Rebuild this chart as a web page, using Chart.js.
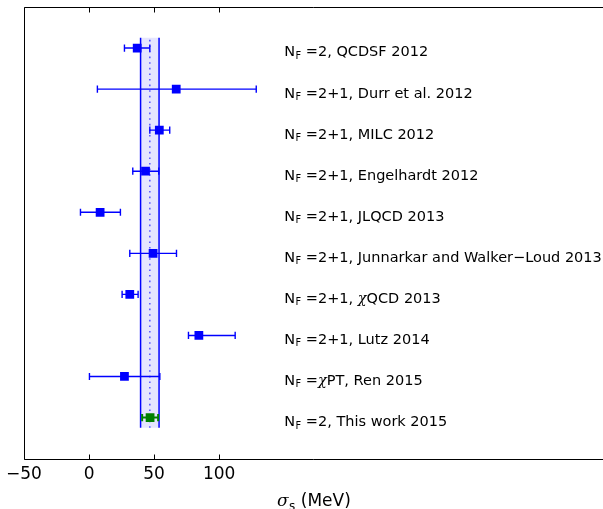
<!DOCTYPE html>
<html lang="en">
<head>
    <meta charset="UTF-8">
    <title>sigma_s comparison</title>
    <script src="https://cdn.jsdelivr.net/npm/chart.js"></script>
    <style>
        body { margin: 0; background: #fff; }
        #wrap { width: 603px; height: 509px; position: relative; }
    </style>
</head>
<body>
    <div id="wrap"><canvas id="sigmaChart"></canvas></div>
    <script>
    // one row per calculation, top to bottom
    var rowY = [10, 9, 8, 7, 6, 5, 4, 3, 2, 1];
    var sigma = [37, 67, 54, 43.4, 8.5, 49.2, 31.3, 84.4, 27.2, 46.9];
    var errLo = [27.2, 6.4, 46.7, 33.6, -6.6, 31.3, 25.4, 76.4, 0.3, 40.8];
    var errHi = [46.7, 128.5, 62, 53.6, 24.1, 67.2, 37.7, 112.3, 54.4, 53.1];
    var refs = [
        '=2, QCDSF 2012',
        '=2+1, Durr et al. 2012',
        '=2+1, MILC 2012',
        '=2+1, Engelhardt 2012',
        '=2+1, JLQCD 2013',
        '=2+1, Junnarkar and Walker\u2212Loud 2013',
        '=2+1, \u03c7QCD 2013',
        '=2+1, Lutz 2014',
        '=\u03c7PT, Ren 2015',
        '=2, This work 2015'
    ];
    var colors = ['#0000ff', '#0000ff', '#0000ff', '#0000ff', '#0000ff',
                  '#0000ff', '#0000ff', '#0000ff', '#0000ff', '#008000'];
    // shaded band of this work
    var bandX = [39.6, 53.8];
    var bandMid = 46.7;
    var bandY = [0.75, 10.25];
    var xTicks = [-50, 0, 50, 100];
    var labelX = 150;

    var datasets = [];

    // markers (first dataset is drawn on top)
    datasets.push({
        data: sigma.map(function (v, i) { return { x: v, y: rowY[i] }; }),
        pointStyle: 'rect',
        pointRadius: 6.2,
        pointBackgroundColor: colors,
        pointBorderColor: colors,
        pointBorderWidth: 0,
        showLine: false
    });

    // error bars with caps
    sigma.forEach(function (v, i) {
        var green = colors[i] !== '#0000ff';
        datasets.push({
            data: [{ x: errLo[i], y: rowY[i] }, { x: errHi[i], y: rowY[i] }],
            showLine: true,
            borderColor: colors[i],
            borderWidth: green ? 2 : 1.4,
            pointStyle: 'line',
            rotation: 90,
            pointRadius: 3.6,
            pointBorderColor: colors[i],
            pointBorderWidth: green ? 2 : 1.4
        });
    });

    // band edges and centre
    datasets.push({
        data: [{ x: bandMid, y: bandY[0] }, { x: bandMid, y: bandY[1] }],
        showLine: true, pointRadius: 0,
        borderColor: 'rgba(0,0,255,0.6)', borderWidth: 1.6, borderDash: [1.6, 4]
    });
    bandX.forEach(function (bx) {
        datasets.push({
            data: [{ x: bx, y: bandY[0] }, { x: bx, y: bandY[1] }],
            showLine: true, pointRadius: 0,
            borderColor: '#0000ff', borderWidth: 1.5
        });
    });
    datasets.push({
        data: [
            { x: bandX[0], y: bandY[0] }, { x: bandX[0], y: bandY[1] },
            { x: bandX[1], y: bandY[1] }, { x: bandX[1], y: bandY[0] },
            { x: bandX[0], y: bandY[0] }
        ],
        showLine: true, pointRadius: 0, borderWidth: 0,
        borderColor: 'rgba(0,0,0,0)',
        backgroundColor: 'rgba(0,0,255,0.1)',
        fill: 'shape'
    });

    function drawLabel(ctx, x, y, text) {
        ctx.font = '14.5px "DejaVu Sans"';
        ctx.fillText('N', x, y);
        x += ctx.measureText('N').width;
        ctx.font = '9.8px "DejaVu Sans"';
        ctx.fillText('F', x + 0.5, y + 2.6);
        x += ctx.measureText('F').width + 0.5;
        var pieces = (' ' + text).split('\u03c7');
        pieces.forEach(function (p, i) {
            if (i > 0) {
                ctx.font = 'italic 14.5px "DejaVu Serif"';
                ctx.fillText('\u03c7', x, y);
                x += ctx.measureText('\u03c7').width;
            }
            ctx.font = '14.5px "DejaVu Sans"';
            ctx.fillText(p, x, y);
            x += ctx.measureText(p).width;
        });
    }

    var framePlugin = {
        id: 'frame',
        afterDraw: function (chart) {
            var ctx = chart.ctx;
            var a = chart.chartArea;
            var xs = chart.scales.x;
            var ys = chart.scales.y;
            ctx.save();
            ctx.strokeStyle = '#000';
            ctx.lineWidth = 1;
            ctx.beginPath();
            var l = Math.round(a.left) + 0.5, t = Math.round(a.top) + 0.5, b = Math.round(a.bottom) + 0.5;
            ctx.moveTo(a.right, t); ctx.lineTo(l, t); ctx.lineTo(l, b); ctx.lineTo(a.right, b);
            xTicks.forEach(function (v) {
                var px = Math.round(xs.getPixelForValue(v)) + 0.5;
                ctx.moveTo(px, b); ctx.lineTo(px, b - 5);
                ctx.moveTo(px, t); ctx.lineTo(px, t + 5);
            });
            ctx.stroke();

            ctx.fillStyle = '#000';
            ctx.textBaseline = 'alphabetic';
            ctx.textAlign = 'left';
            refs.forEach(function (r, i) {
                drawLabel(ctx, xs.getPixelForValue(labelX), ys.getPixelForValue(rowY[i]) + 8.4, r);
            });

            // axis title: sigma_s (MeV)
            var tx = 277, ty = 506;
            ctx.font = 'italic 17px "DejaVu Serif"';
            ctx.fillText('\u03c3', tx, ty);
            tx += ctx.measureText('\u03c3').width;
            ctx.font = '12px "DejaVu Sans"';
            ctx.fillText('s', tx + 0.5, ty + 4);
            tx += ctx.measureText('s').width + 0.5;
            ctx.font = '17px "DejaVu Sans"';
            ctx.fillText(' (MeV)', tx, ty);
            ctx.restore();
        }
    };

    new Chart(document.getElementById('sigmaChart'), {
        type: 'scatter',
        data: { datasets: datasets },
        options: {
            responsive: true,
            maintainAspectRatio: false,
            animation: false,
            events: [],
            layout: { autoPadding: false, padding: { left: 24, top: 7, right: 0, bottom: 18 } },
            plugins: { legend: { display: false }, tooltip: { enabled: false } },
            scales: {
                x: {
                    type: 'linear',
                    min: -50,
                    max: 395,
                    afterBuildTicks: function (scale) {
                        scale.ticks = xTicks.map(function (v) { return { value: v }; });
                    },
                    grid: { display: false, drawTicks: false },
                    border: { display: false },
                    ticks: {
                        padding: 6,
                        color: '#000',
                        font: { family: 'DejaVu Sans', size: 17 },
                        callback: function (v) {
                            return v < 0 ? '\u2212' + Math.abs(v) : String(v);
                        }
                    }
                },
                y: { display: false, min: 0, max: 11 }
            }
        },
        plugins: [framePlugin]
    });
    </script>
</body>
</html>
